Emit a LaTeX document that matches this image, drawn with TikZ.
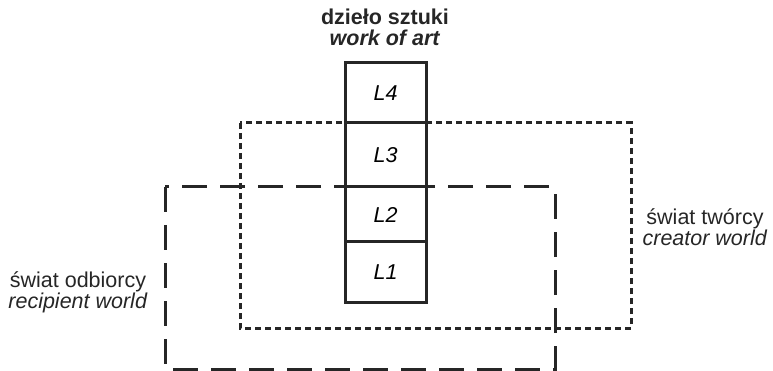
\documentclass[tikz,border=0pt]{standalone}
\usepackage{fontspec}
\setmainfont{Liberation Sans}
\begin{document}
\begin{tikzpicture}[x=1pt,y=-1pt,
  lay/.style={draw=black!85,line width=3pt,minimum width=81pt,inner sep=0pt,font=\itshape},
  lbl/.style={align=center,inner sep=0pt,text=black!85,font=\fontsize{21.5}{21.5}\selectfont},
  dotbox/.style={draw=black!85,line width=3pt,dash pattern=on 6pt off 4pt},
  dashbox/.style={draw=black!85,line width=3pt,dash pattern=on 25pt off 13pt}]
\useasboundingbox (0,0) rectangle (773,371);
% worlds
\coordinate (c1) at (240,123);
\coordinate (c2) at (631,328);
\coordinate (r1) at (165,187);
\coordinate (r2) at (555,369);
\draw[dotbox] (c1) rectangle (c2);
\draw[dashbox] (r1) rectangle (r2);
% layers
\node[lay,minimum height=60pt,font=\fontsize{21.5}{21.5}\selectfont\itshape] (l4) at (385.5,93) {L4};
\node[lay,minimum height=64pt,font=\fontsize{21.5}{21.5}\selectfont\itshape] (l3) at (385.5,155) {L3};
\node[lay,minimum height=55pt,font=\fontsize{21.5}{21.5}\selectfont\itshape] (l2) at (385.5,214.5) {L2};
\node[lay,minimum height=60pt,font=\fontsize{21.5}{21.5}\selectfont\itshape] (l1) at (385.5,272) {L1};
% labels
\node[lbl] (title) at (385,27.5) {\textbf{dzieło sztuki}\\\textbf{\textit{work of art}}};
\node[lbl] (creator) at (705,227) {świat twórcy\\\textit{creator world}};
\node[lbl] (recip) at (78,292.5) {świat odbiorcy\\\textit{recipient world}};
\end{tikzpicture}
\end{document}
